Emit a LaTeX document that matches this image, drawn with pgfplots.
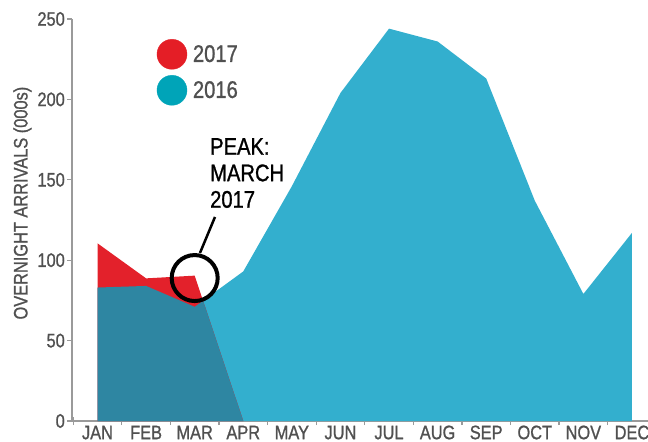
\documentclass[border=0pt]{standalone}
\usepackage{fontspec}
\setmainfont{Liberation Sans}[FakeStretch=0.84, FakeBold=1]
\usepackage{pgfplots}
\pgfplotsset{compat=1.18}
\usepgfplotslibrary{fillbetween}
\usepackage{pgfplotstable}
\definecolor{c16}{HTML}{33AFCE}
\definecolor{c17}{HTML}{E3212B}
\definecolor{cdark}{HTML}{2E86A2}
\definecolor{leg16}{HTML}{00A4B8}
\definecolor{leg17}{HTML}{E41E26}
\definecolor{axgray}{HTML}{9A9A9A}
\definecolor{txtgray}{HTML}{505050}

\pgfplotstableread{
x y
0 83
1 84
2 71
3 93
4 146
5 204
6 244
7 236
8 213
9 137
10 79
11 117
}\sixteen
\pgfplotstableread{
x y
0 110.5
1 88.7
2 90.4
3 0
}\seventeen

\begin{document}
\begin{tikzpicture}
\path[use as bounding box] (0,0) rectangle (648bp,442bp);
\begin{axis}[
  at={(72bp,21bp)}, anchor=south west,
  scale only axis, width=576bp, height=402bp,
  xmin=-0.525, xmax=11.33, ymin=0, ymax=250,
  axis x line*=bottom, axis y line*=left,
  axis line style={axgray, line width=1.2bp},
  xtick={0,...,11},
  xticklabels={JAN,FEB,MAR,APR,MAY,JUN,JUL,AUG,SEP,OCT,NOV,DEC},
  major x tick style={draw=none},
  minor xtick={-0.5,0.5,...,10.5},
  minor tick length=8bp,
  xtick align=center,
  ytick align=outside,
  ytick={0,50,...,250},
  major tick length=5bp,
  tick style={axgray, line width=1.2bp},
  ticklabel style={font=\fontsize{19.5bp}{20bp}\selectfont, text=txtgray},
  /pgf/number format/assume math mode=true,
  xticklabel style={anchor=base, yshift=-15.7bp},
  yticklabel style={anchor=east, inner sep=0pt, xshift=-2bp},
  ylabel={OVERNIGHT ARRIVALS (000s)},
  ylabel style={at={(axis description cs:-0.0773,0.542)}, anchor=base, font=\fontsize{19.5bp}{20bp}\selectfont, text=txtgray},
  clip=false,
  legend style={draw=none, fill=none, at={(axis description cs:0.142,0.955)}, anchor=north west,
    font=\fontsize{24bp}{24bp}\selectfont, text=txtgray, row sep=6bp,
    /tikz/every odd column/.append style={column sep=4bp}},
  legend cell align=left,
]
\addplot[fill=c16, draw=none, forget plot] table[x=x,y=y] {\sixteen} \closedcycle;
\addplot[fill=c17, draw=none, forget plot] table[x=x,y=y] {\seventeen} \closedcycle;
\addplot[draw=none, name path=A, forget plot] table[x=x,y=y] {\sixteen};
\addplot[draw=none, name path=B, forget plot] table[x=x,y=y] {\seventeen};
\fill[cdark, intersection segments={of=A and B, sequence={L1 -- R2}}] -- (axis cs:0,0) -- cycle;

\addlegendimage{only marks, mark=*, color=leg17, mark size=15bp, mark options={draw=leg17, fill=leg17}}
\addlegendentry{2017}
\addlegendimage{only marks, mark=*, color=leg16, mark size=15bp, mark options={draw=leg16, fill=leg16}}
\addlegendentry{2016}

\draw[black, line width=4bp] (axis cs:2,88.9) circle[radius=23bp];
\draw[black, line width=2.5bp] (axis cs:2.418,126.9) -- (axis cs:2.109,104.5);
\node[anchor=north west, inner sep=0pt, align=left, font=\fontsize{24bp}{26.5bp}\selectfont, text=black]
  at (axis cs:2.315,176) {PEAK:\\MARCH\\2017};
\end{axis}
\end{tikzpicture}
\end{document}
